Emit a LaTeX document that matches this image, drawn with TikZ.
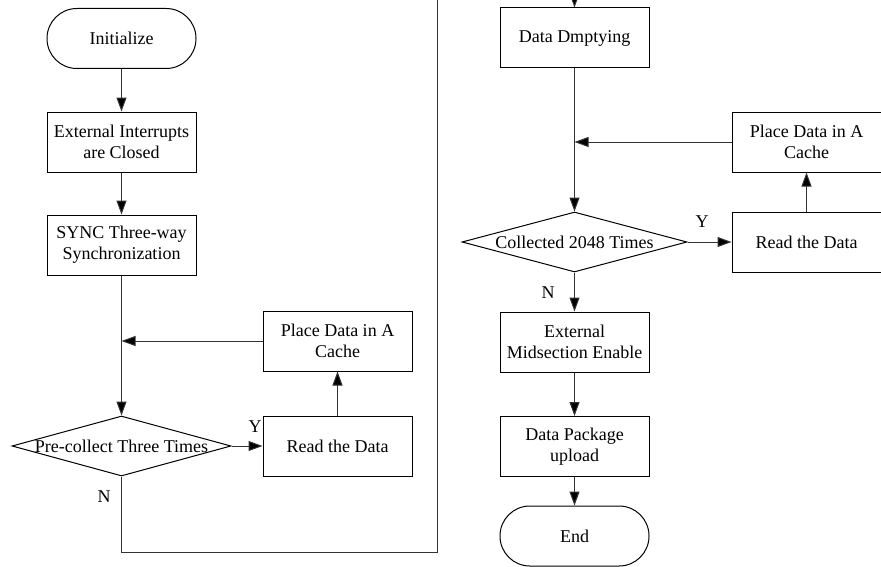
\documentclass[tikz,border=0pt]{standalone}
\usepackage{fontspec}
\setmainfont{Liberation Serif}
\usetikzlibrary{shapes.geometric,arrows.meta}
\begin{document}
\begin{tikzpicture}[x=0.75pt,y=-0.75pt,
 font=\fontsize{13.5}{15.75}\selectfont,
 box/.style={draw, minimum width=111.75pt, minimum height=45pt, inner sep=0pt, align=center, line width=0.75pt},
 term/.style={box, rounded corners=22.4pt},
 dec/.style={draw, diamond, inner sep=0pt, line width=0.75pt, minimum height=45pt},
 conn/.style={line width=0.75pt, draw=black!80, -{Triangle[length=10.5pt,width=7.5pt,fill=black]}},
 plain/.style={line width=0.75pt, draw=black!80},
 lbl/.style={inner sep=0pt}]
\useasboundingbox (0,0) rectangle (881,567);
% left column
\node[term] (init) at (121.5,38.5) {Initialize};
\node[box] (ext) at (121.5,142) {External Interrupts\\are Closed};
\node[box] (sync) at (121.5,245) {SYNC Three-way\\Synchronization};
\node[dec, minimum width=164.25pt] (d1) at (121.5,446) {};
\node[lbl] (d1t) at (d1) {Pre-collect Three Times};
\node[box] (read1) at (337.5,446) {Read the Data};
\node[box] (place1) at (337.5,341) {Place Data in A\\Cache};
\coordinate (m1) at (121.5,341);
\coordinate (b1) at (121.5,552);
\coordinate (b2) at (437,552);
\coordinate (t1) at (437,0);
\coordinate (t2) at (574.5,0);
% right column
\node[box] (empty) at (574.5,38) {Data Dmptying};
\node[dec, minimum width=168.75pt] (d2) at (574.5,242) {};
\node[lbl] (d2t) at (d2) {Collected 2048 Times};
\node[box] (read2) at (806.5,242) {Read the Data};
\node[box] (place2) at (806.5,142) {Place Data in A\\Cache};
\coordinate (m2) at (574.5,142);
\node[box] (mid) at (574.5,342) {External\\Midsection Enable};
\node[box] (pkg) at (574.5,446.5) {Data Package\\upload};
\node[term] (end) at (574.5,536) {End};
% labels
\node[lbl] (y1) at (255,427) {Y};
\node[lbl] (n1) at (104,497) {N};
\node[lbl] (y2) at (702,222) {Y};
\node[lbl] (n2) at (548,293) {N};
% connectors
\draw[conn] (init) -- (ext);
\draw[conn] (ext) -- (sync);
\draw[conn] (sync) -- (d1);
\draw[conn] (place1) -- (m1);
\draw[conn] (d1) -- (read1);
\draw[conn] (read1) -- (place1);
\draw[plain] (d1.south) -- (b1) -- (b2) -- (t1);
\draw[conn] (t2) -- (empty);
\draw[conn] (empty) -- (d2);
\draw[conn] (place2) -- (m2);
\draw[conn] (d2) -- (read2);
\draw[conn] (read2) -- (place2);
\draw[conn] (d2) -- (mid);
\draw[conn] (mid) -- (pkg);
\draw[conn] (pkg) -- (end);
\end{tikzpicture}
\end{document}
